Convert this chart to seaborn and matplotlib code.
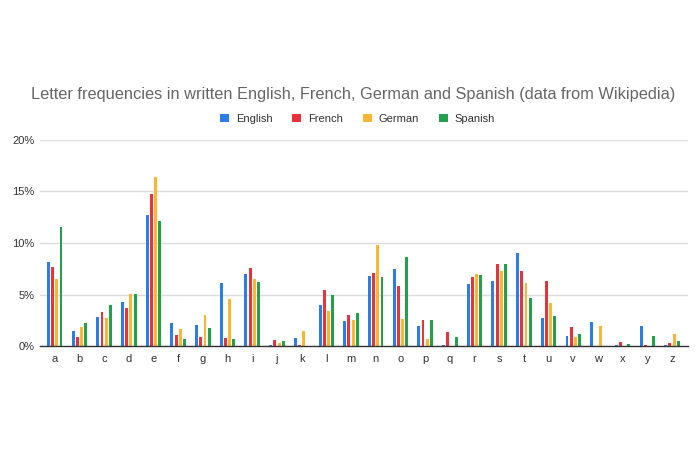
import matplotlib
matplotlib.use("Agg")
import matplotlib.pyplot as plt
import seaborn as sns
import pandas as pd
from matplotlib.ticker import FuncFormatter, MultipleLocator

letters = list("abcdefghijklmnopqrstuvwxyz")
english = [8.17, 1.49, 2.78, 4.25, 12.70, 2.23, 2.02, 6.09, 6.97, 0.15, 0.77, 4.03, 2.41,
           6.75, 7.51, 1.93, 0.10, 5.99, 6.33, 9.06, 2.76, 0.98, 2.36, 0.15, 1.97, 0.07]
french = [7.64, 0.90, 3.26, 3.67, 14.72, 1.07, 0.87, 0.74, 7.53, 0.61, 0.07, 5.46, 2.97,
          7.10, 5.80, 2.52, 1.36, 6.69, 7.95, 7.24, 6.31, 1.84, 0.05, 0.43, 0.13, 0.33]
german = [6.52, 1.89, 2.73, 5.08, 16.40, 1.66, 3.01, 4.58, 6.55, 0.27, 1.42, 3.44, 2.53,
          9.78, 2.59, 0.67, 0.02, 7.00, 7.27, 6.15, 4.17, 0.85, 1.92, 0.03, 0.04, 1.13]
spanish = [11.53, 2.22, 4.02, 5.01, 12.18, 0.69, 1.77, 0.70, 6.25, 0.49, 0.01, 4.97, 3.16,
           6.71, 8.68, 2.51, 0.88, 6.87, 7.98, 4.63, 2.93, 1.14, 0.02, 0.22, 1.01, 0.47]
languages = ["English", "French", "German", "Spanish"]
colors = ["#2b7de9", "#e8333c", "#fbb634", "#23a04b"]

rows = []
for lang, vals in zip(languages, [english, french, german, spanish]):
    for l, v in zip(letters, vals):
        rows.append({"letter": l, "language": lang, "freq": v})
df = pd.DataFrame(rows)

sns.set_theme(style="white")
plt.rcParams["font.family"] = ["Liberation Sans", "DejaVu Sans"]

fig = plt.figure(figsize=(7, 4.5), dpi=100)
ax = fig.add_axes([0.057, 0.231, 0.926, 0.458])
sns.barplot(data=df, x="letter", y="freq", hue="language", palette=colors,
            order=letters, hue_order=languages, width=0.68, gap=0.3,
            saturation=1, ax=ax, legend=True, linewidth=0)
for p in ax.patches:
    p.set_antialiased(False)
ax.set_ylim(0, 20)
ax.set_xlim(-0.6, 25.65)
ax.yaxis.set_major_locator(MultipleLocator(5))
ax.yaxis.set_major_formatter(FuncFormatter(lambda v, p: f"{int(v)}%"))
ax.grid(axis="y", color="#dcdcdc", linewidth=1)
ax.set_axisbelow(True)
for s in ["top", "right", "left"]:
    ax.spines[s].set_visible(False)
ax.spines["bottom"].set_color("#333333")
ax.spines["bottom"].set_linewidth(1)
ax.set_xlabel("")
ax.set_ylabel("")
ax.tick_params(axis="both", length=0, labelsize=8, colors="#333333", pad=6)
ax.tick_params(axis="y", pad=4)

leg = ax.legend(loc="lower center", bbox_to_anchor=(0.49, 1.03), ncol=4, frameon=False,
                fontsize=8, handlelength=0.8, handleheight=0.8, handletextpad=0.6,
                columnspacing=1.8, labelcolor="#333333")
fig.text(0.505, 0.789, "Letter frequencies in written English, French, German and Spanish (data from Wikipedia)",
         ha="center", va="center", fontsize=11.8, color="#666666")
fig.savefig("out.png", dpi=100, facecolor="white")
